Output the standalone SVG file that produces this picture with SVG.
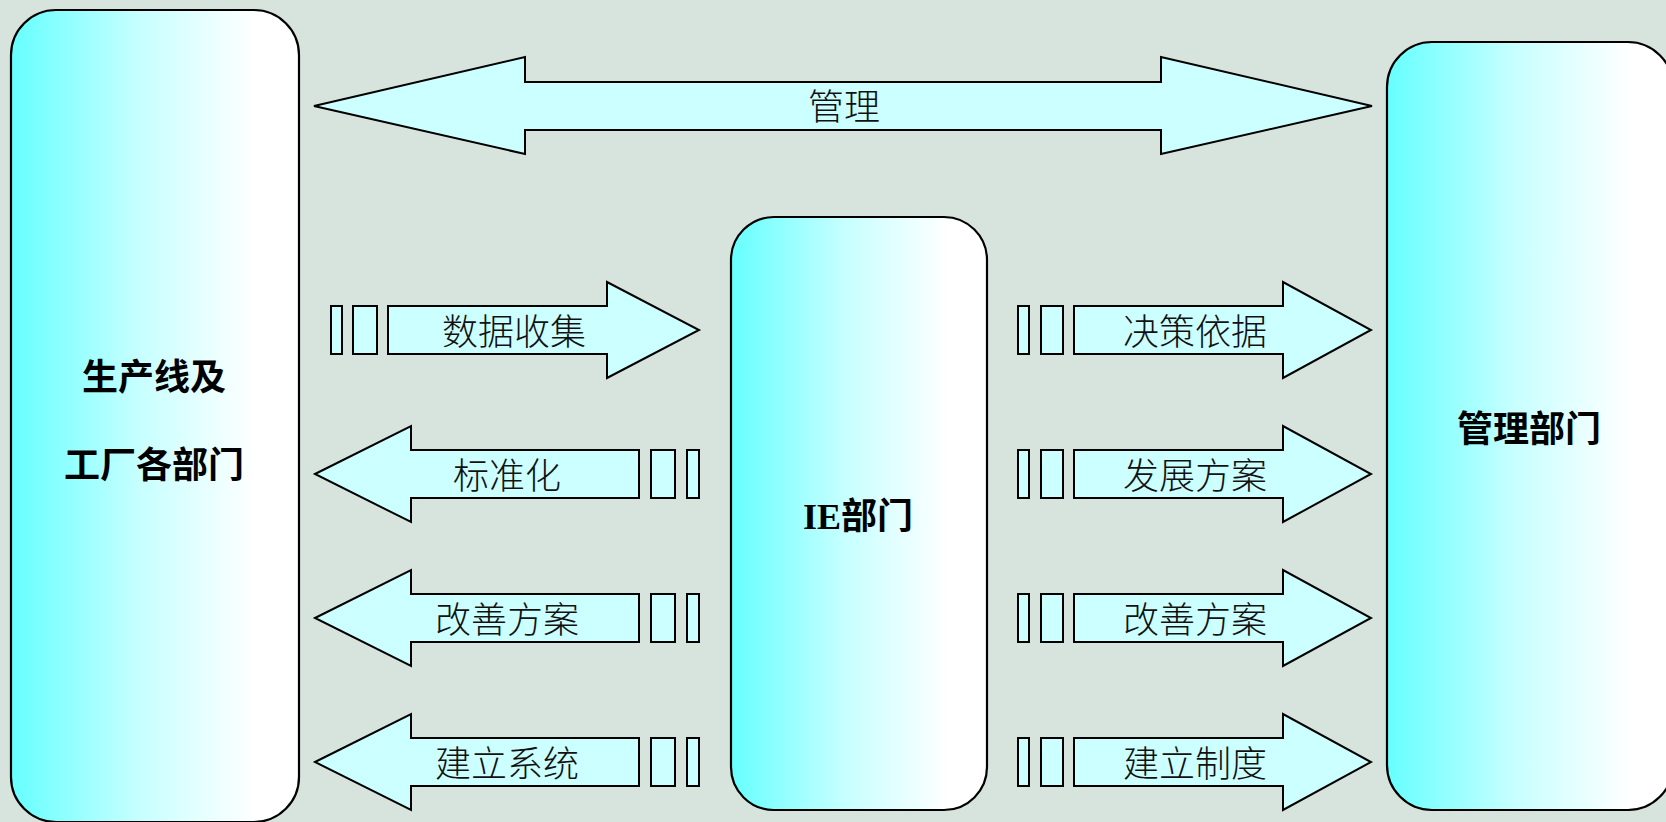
<svg xmlns="http://www.w3.org/2000/svg" width="1666" height="822" viewBox="0 0 1666 822">
<defs>
<linearGradient id="boxGrad" x1="0" y1="0" x2="1" y2="0">
<stop offset="0" stop-color="#66FFFF"/>
<stop offset="0.45" stop-color="#C8FFFF"/>
<stop offset="0.85" stop-color="#FFFFFF"/>
<stop offset="1" stop-color="#FFFFFF"/>
</linearGradient>
<style>
.box{fill:url(#boxGrad);stroke:#000;stroke-width:2.2}
.arr{fill:#CCFFFF;stroke:#000;stroke-width:2}
.lbl{font-family:"Liberation Serif","Noto Sans CJK SC",serif;font-size:36px;font-weight:300;fill:#111;text-anchor:middle}
.big{font-family:"Liberation Serif","Noto Sans CJK SC",serif;font-size:36px;font-weight:bold;fill:#000;text-anchor:middle}
</style>
</defs>
<rect x="0" y="0" width="1666" height="822" fill="#D7E4DD"/>

<g id="node-production">
<rect class="box" x="11" y="10" width="288" height="812" rx="45" ry="45"/>
<text class="big" x="154" y="390">生产线及</text>
<text class="big" x="154" y="478">工厂各部门</text>
</g>

<g id="node-ie">
<rect class="box" x="731" y="217" width="256" height="593" rx="43" ry="43"/>
<text class="big" x="858" y="529">IE部门</text>
</g>

<g id="node-management">
<rect class="box" x="1387" y="42" width="286" height="768" rx="45" ry="45"/>
<text class="big" x="1529" y="442">管理部门</text>
</g>

<g id="connectors">
<g id="arrow-manage">
<polygon class="arr" points="314,106 525,57 525,82 1161,82 1161,57 1372,106 1161,154 1161,130 525,130 525,154"/>
<text class="lbl" x="844" y="120">管理</text>
</g>

<g id="arrow-data">
<rect class="arr" x="331" y="306" width="11" height="48"/>
<rect class="arr" x="353" y="306" width="24" height="48"/>
<polygon class="arr" points="388,306 607,306 607,282 699,330 607,378 607,354 388,354"/>
<text class="lbl" x="514" y="345">数据收集</text>
</g>

<g id="arrow-std">
<polygon class="arr" points="315,474 411,426 411,450 639,450 639,498 411,498 411,522"/>
<rect class="arr" x="651" y="450" width="24" height="48"/>
<rect class="arr" x="687" y="450" width="12" height="48"/>
<text class="lbl" x="507" y="489">标准化</text>
</g>

<g id="arrow-improve-left">
<polygon class="arr" points="315,618 411,570 411,594 639,594 639,642 411,642 411,666"/>
<rect class="arr" x="651" y="594" width="24" height="48"/>
<rect class="arr" x="687" y="594" width="12" height="48"/>
<text class="lbl" x="507" y="633">改善方案</text>
</g>

<g id="arrow-system">
<polygon class="arr" points="315,762 411,714 411,738 639,738 639,786 411,786 411,810"/>
<rect class="arr" x="651" y="738" width="24" height="48"/>
<rect class="arr" x="687" y="738" width="12" height="48"/>
<text class="lbl" x="507" y="777">建立系统</text>
</g>

<g id="arrow-decision">
<rect class="arr" x="1018" y="306" width="11" height="48"/>
<rect class="arr" x="1041" y="306" width="22" height="48"/>
<polygon class="arr" points="1074,306 1283,306 1283,282 1371,330 1283,378 1283,354 1074,354"/>
<text class="lbl" x="1195" y="345">决策依据</text>
</g>

<g id="arrow-develop">
<rect class="arr" x="1018" y="450" width="11" height="48"/>
<rect class="arr" x="1041" y="450" width="22" height="48"/>
<polygon class="arr" points="1074,450 1283,450 1283,426 1371,474 1283,522 1283,498 1074,498"/>
<text class="lbl" x="1195" y="489">发展方案</text>
</g>

<g id="arrow-improve-right">
<rect class="arr" x="1018" y="594" width="11" height="48"/>
<rect class="arr" x="1041" y="594" width="22" height="48"/>
<polygon class="arr" points="1074,594 1283,594 1283,570 1371,618 1283,666 1283,642 1074,642"/>
<text class="lbl" x="1195" y="633">改善方案</text>
</g>

<g id="arrow-rules">
<rect class="arr" x="1018" y="738" width="11" height="48"/>
<rect class="arr" x="1041" y="738" width="22" height="48"/>
<polygon class="arr" points="1074,738 1283,738 1283,714 1371,762 1283,810 1283,786 1074,786"/>
<text class="lbl" x="1195" y="777">建立制度</text>
</g>
</g>
</svg>
